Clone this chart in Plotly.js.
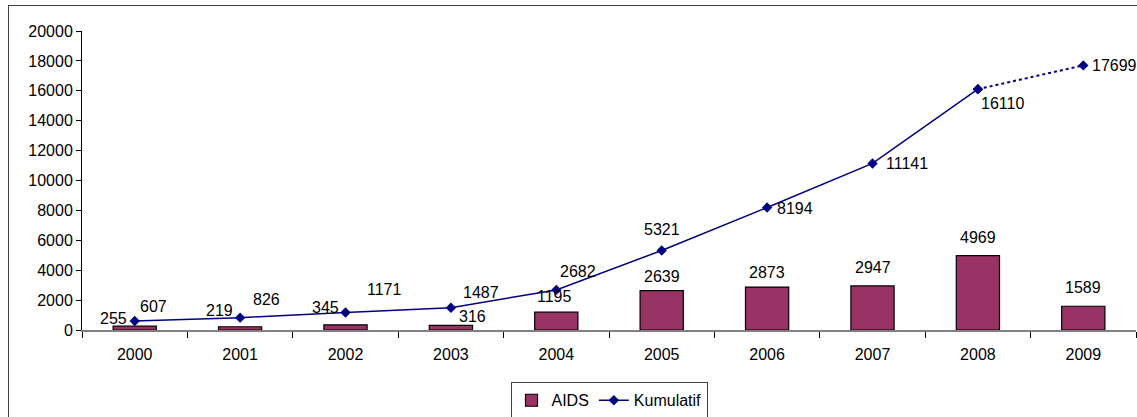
<!DOCTYPE html>
<html>
<head>
<meta charset="utf-8">
<script src="https://cdn.plot.ly/plotly-3.0.1.min.js"></script>
<style>
  html, body { margin: 0; padding: 0; background: #fff; overflow: hidden; }
  #frame { position: absolute; left: 8px; top: 5px; width: 1200px; height: 500px;
           border-left: 1px solid #404040; border-top: 1px solid #404040; }
  #chart { position: absolute; left: 0; top: 0; width: 1137px; height: 417px; }
</style>
</head>
<body>
<div id="frame"></div>
<div id="chart"></div>
<script>
const years = ['2000', '2001', '2002', '2003', '2004', '2005', '2006', '2007', '2008', '2009'];
const aids = [255, 219, 345, 316, 1195, 2639, 2873, 2947, 4969, 1589];
const kumulatif = [607, 826, 1171, 1487, 2682, 5321, 8194, 11141, 16110, 17699];

// label offsets in pixels (text centre relative to the data point)
const aidsLabelShift = [[-21, -8], [-21, -16], [-20, -17], [22, -9], [-2, -16],
                        [0, -14], [0, -15], [0, -18], [0, -18], [0, -19]];
const kumLabelShift = [[19, -14], [26, -18], [39, -23], [30, -15], [22, -18],
                       [0, -21], [28, 1], [34, 0], [25, 14], [31, 0]];

const font = {family: 'Liberation Sans, Arial, sans-serif', size: 16, color: '#000'};
const navy = '#000080';

let traces = [
    {
        type: 'bar', name: 'AIDS', x: years, y: aids,
        marker: {color: '#993366', line: {color: '#000', width: 1.2}},
        hoverinfo: 'skip'
    },
    {
        type: 'scatter', mode: 'lines+markers', name: 'Kumulatif',
        x: years.slice(0, 9), y: kumulatif.slice(0, 9),
        line: {color: navy, width: 1.5},
        marker: {symbol: 'diamond', size: 8, color: navy},
        cliponaxis: false
    },
    {
        // last segment is dotted in the original
        type: 'scatter', mode: 'lines+markers', showlegend: false,
        x: years.slice(8), y: kumulatif.slice(8),
        line: {color: navy, width: 2, dash: 'dot'},
        marker: {symbol: 'diamond', size: 8, color: navy},
        cliponaxis: false
    }
];

// category axis: annotations take the category index
let annotations = [];
years.forEach((yr, i) => {
    annotations.push({
        x: i, y: aids[i], text: String(aids[i]), showarrow: false,
        xshift: aidsLabelShift[i][0], yshift: -aidsLabelShift[i][1],
        font: font
    });
    annotations.push({
        x: i, y: kumulatif[i], text: String(kumulatif[i]), showarrow: false,
        xshift: kumLabelShift[i][0], yshift: -kumLabelShift[i][1],
        font: font
    });
});

let layout = {
    width: 1137, height: 417,
    margin: {l: 82, r: 1, t: 31, b: 87, autoexpand: false},
    paper_bgcolor: 'rgba(0,0,0,0)',
    plot_bgcolor: 'rgba(0,0,0,0)',
    font: font,
    bargap: 0.59,
    showlegend: true,
    legend: {
        orientation: 'h', x: 0.5, xanchor: 'center', y: -0.175, yanchor: 'top',
        bordercolor: '#404040', borderwidth: 1, font: font,
        traceorder: 'normal'
    },
    xaxis: {
        type: 'category', range: [-0.5, 9.5],
        showline: true, linecolor: '#808080', linewidth: 1.5,
        ticks: 'outside', tickson: 'boundaries', ticklen: 6, tickcolor: '#000',
        ticklabelstandoff: 9,
        showgrid: false, zeroline: false, fixedrange: true
    },
    yaxis: {
        range: [0, 20000], dtick: 2000, tickformat: 'd',
        showline: true, linecolor: '#000', linewidth: 1,
        ticks: 'outside', ticklen: 5, tickcolor: '#000',
        showgrid: false, zeroline: false, fixedrange: true
    },
    annotations: annotations
};

Plotly.newPlot('chart', traces, layout, {displayModeBar: false, staticPlot: true});
</script>
</body>
</html>
